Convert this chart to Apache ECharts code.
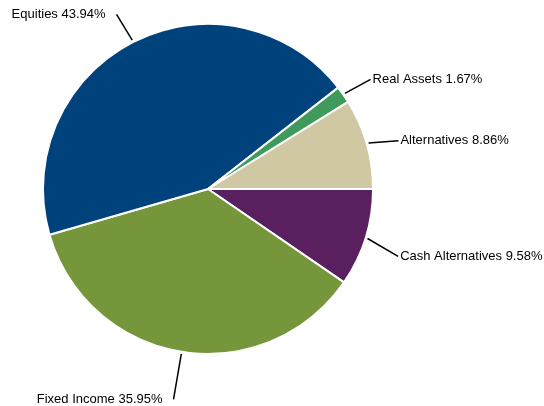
<!DOCTYPE html>
<html>
<head>
<meta charset="utf-8">
<script src="https://cdn.jsdelivr.net/npm/echarts@6/dist/echarts.min.js"></script>
<style>
    html, body { margin: 0; padding: 0; background: #fff; }
    #chart { width: 544px; height: 406px; }
</style>
</head>
<body>
<div id="chart"></div>
<script>
// slices, clockwise from 3 o'clock
var categories = ['Cash Alternatives', 'Fixed Income', 'Equities', 'Real Assets', 'Alternatives'];
var values = [9.58, 35.95, 43.94, 1.67, 8.86];
var colors = ['#5a1f5f', '#76963b', '#00427b', '#3f9a5c', '#cfc8a2'];

// leader line tweaks: extra shift of the line end [dx, dy] and gap to text
var lineShift = [[2, 9], [-3, 16], [-2, 1], [1, 3], [1, 6]];
var textGap = [2, 11, 11, 2, 2];

var pieData = categories.map(function (name, i) {
    return { name: name, value: values[i], itemStyle: { color: colors[i] } };
});

var myChart = echarts.init(document.getElementById('chart'));
myChart.setOption({
    animation: false,
    series: [
        {
            type: 'pie',
            center: [208, 189],
            radius: 165,
            startAngle: 0,
            clockwise: true,
            avoidLabelOverlap: false,
            data: pieData,
            itemStyle: {
                borderColor: '#fff',
                borderWidth: 2
            },
            label: {
                formatter: function (p) { return p.name + ' ' + p.value.toFixed(2) + '%'; },
                fontFamily: 'Liberation Sans, Arial, sans-serif',
                fontSize: 13,
                color: '#000',
                overflow: 'none',
                bleedMargin: 0,
                distanceToLabelLine: 3
            },
            labelLine: {
                length: 32,
                length2: 0,
                lineStyle: { color: '#000', width: 1.5 }
            },
            labelLayout: function (p) {
                var pts = p.labelLinePoints;
                if (!pts) return {};
                var i = p.dataIndex;
                var edge = pts[0];
                var last = pts[pts.length - 1];
                // small gap between the slice edge and the leader line
                var dx = pts[1][0] - edge[0], dy = pts[1][1] - edge[1];
                var len = Math.sqrt(dx * dx + dy * dy) || 1;
                var start = [edge[0] + dx / len * 2, edge[1] + dy / len * 2];
                var end = [last[0] + lineShift[i][0], last[1] + lineShift[i][1]];
                var left = end[0] < edge[0];
                return {
                    x: end[0] + (left ? -textGap[i] : textGap[i]),
                    y: end[1],
                    align: left ? 'right' : 'left',
                    verticalAlign: 'middle',
                    labelLinePoints: [start, end]
                };
            }
        }
    ]
});
</script>
</body>
</html>
